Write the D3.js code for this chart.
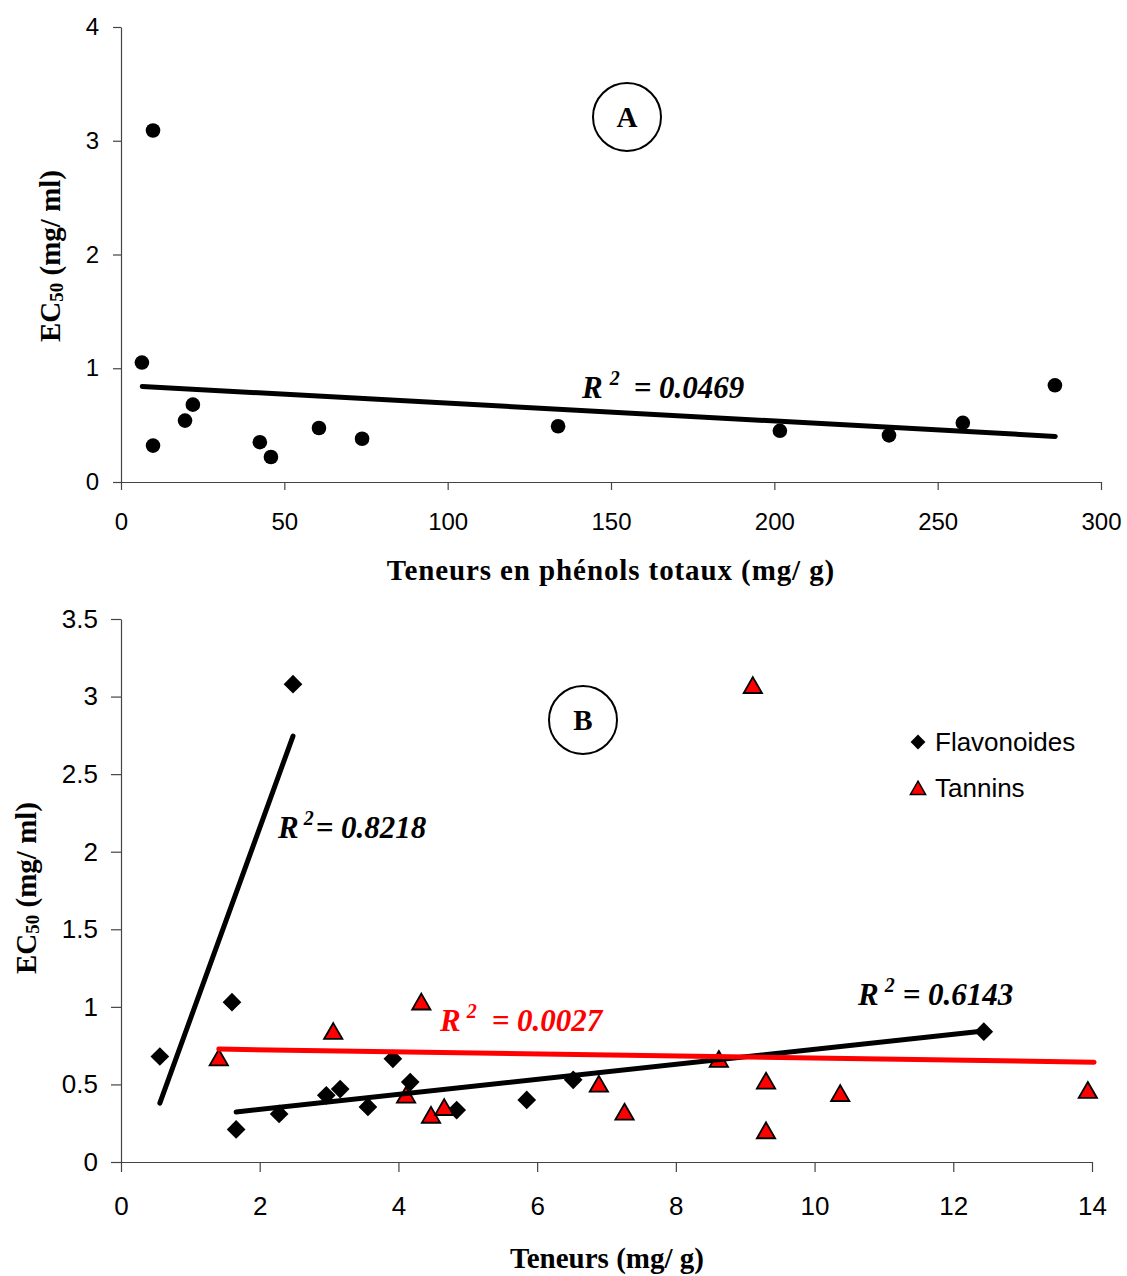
<!DOCTYPE html>
<html>
<head>
<meta charset="utf-8">
<script src="https://cdn.jsdelivr.net/npm/d3@7"></script>
<style>
  html, body { margin: 0; padding: 0; background: #fff; }
  svg { display: block; }
  .tick text { fill: #000; }
</style>
</head>
<body>
<svg id="chart" width="1127" height="1276"></svg>
<script>
// ---- Panel A: total phenols vs EC50 ----
const phenolContent = [6.4, 9.8, 9.8, 19.6, 22.0, 42.5, 45.9, 60.6, 73.8, 133.8, 201.7, 235.1, 257.7, 285.9];
const phenolEC50    = [1.05, 3.09, 0.32, 0.54, 0.68, 0.35, 0.22, 0.475, 0.38, 0.49, 0.45, 0.41, 0.52, 0.85];
const phenolFit     = { slope: -0.00157, intercept: 0.85, from: 6.5, to: 286 };
const phenolR2      = "0.0469";

// ---- Panel B: flavonoids / tannins vs EC50 ----
const flavContent = [0.56, 1.60, 2.48, 1.66, 2.28, 2.96, 3.16, 3.56, 3.92, 4.17, 4.84, 5.85, 6.52, 12.44];
const flavEC50    = [0.68, 1.03, 3.08, 0.21, 0.31, 0.43, 0.47, 0.355, 0.665, 0.515, 0.335, 0.40, 0.53, 0.84];
const tanContent  = [1.41, 3.06, 4.33, 4.11, 4.47, 4.66, 6.89, 7.26, 8.62, 9.11, 9.30, 9.30, 10.37, 13.94];
const tanEC50     = [0.67, 0.84, 1.03, 0.43, 0.30, 0.35, 0.50, 0.32, 0.66, 3.07, 0.52, 0.20, 0.44, 0.46];
const flavFitSteep   = { slope: 1.232, intercept: -0.31, from: 0.56, to: 2.48 };
const flavFitShallow = { slope: 0.0484, intercept: 0.242, from: 1.66, to: 12.44 };
const tanFit         = { slope: -0.00666, intercept: 0.737, from: 1.41, to: 14.03 };
const flavR2Steep = "0.8218", flavR2Shallow = "0.6143", tanR2 = "0.0027";

const ticksAX = [0, 50, 100, 150, 200, 250, 300];
const ticksAY = [0, 1, 2, 3, 4];
const ticksBX = [0, 2, 4, 6, 8, 10, 12, 14];
const ticksBY = [0, 0.5, 1, 1.5, 2, 2.5, 3, 3.5];
const seriesNames = ["Flavonoides", "Tannins"];

const RED = "#ff0000";
const SANS = "'Liberation Sans', Arial, sans-serif";
const SERIF = "'Liberation Serif', 'Times New Roman', serif";

const svg = d3.select("#chart");

function fitLine(g, x, y, fit, color) {
  const pts = [fit.from, fit.to].map(v => [x(v), y(fit.slope * v + fit.intercept)]);
  g.append("path")
    .attr("d", d3.line()(pts))
    .attr("stroke", color).attr("stroke-width", 5)
    .attr("stroke-linecap", "round").attr("fill", "none");
}

function r2Label(g, px, py, value, color, gapSup, gapEq) {
  const t = g.append("text")
    .attr("x", px).attr("y", py)
    .attr("font-family", SERIF).attr("font-weight", "bold").attr("font-style", "italic")
    .attr("font-size", 31).attr("fill", color);
  t.append("tspan").text("R");
  t.append("tspan").attr("dx", gapSup).attr("dy", -13).attr("font-size", 20).text("2");
  t.append("tspan").attr("dx", gapEq).attr("dy", 13).text("= " + value);
}

function circledLetter(g, cx, cy, letter) {
  g.append("circle").attr("cx", cx).attr("cy", cy).attr("r", 34)
    .attr("fill", "none").attr("stroke", "#000").attr("stroke-width", 2);
  g.append("text").attr("x", cx).attr("y", cy + 10).attr("text-anchor", "middle")
    .attr("font-family", SERIF).attr("font-weight", "bold").attr("font-size", 29).text(letter);
}

function yTitle(g, cx, cy) {
  const t = g.append("text")
    .attr("transform", `translate(${cx},${cy}) rotate(-90)`)
    .attr("text-anchor", "middle")
    .attr("font-family", SERIF).attr("font-weight", "bold").attr("font-size", 29);
  t.append("tspan").text("EC");
  t.append("tspan").attr("font-size", 19).attr("dy", 3).text("50");
  t.append("tspan").attr("dy", -3).text(" (mg/ ml)");
}

function styleAxis(g, fontSize) {
  g.selectAll("path.domain").attr("stroke", "#444").attr("stroke-width", 1.2);
  g.selectAll(".tick line").attr("stroke", "#444").attr("stroke-width", 1.2);
  g.selectAll(".tick text").attr("font-family", SANS).attr("font-size", fontSize);
}

// ================= Panel A =================
const xA = d3.scaleLinear().domain([0, 300]).range([121, 1101]);
const yA = d3.scaleLinear().domain([0, 4]).range([482, 27]);
const gA = svg.append("g");

const axAX = gA.append("g").attr("transform", `translate(0,${yA(0)})`)
  .call(d3.axisBottom(xA).tickValues(ticksAX).tickSize(8).tickPadding(23).tickSizeOuter(0));
styleAxis(axAX, 24);
const axAY = gA.append("g").attr("transform", `translate(${xA(0)},0)`)
  .call(d3.axisLeft(yA).tickValues(ticksAY).tickSize(8).tickPadding(14).tickSizeOuter(0)
    .tickFormat(d3.format("")));
styleAxis(axAY, 24);

gA.selectAll("circle.pt").data(d3.zip(phenolContent, phenolEC50)).join("circle")
  .attr("class", "pt")
  .attr("cx", d => xA(d[0])).attr("cy", d => yA(d[1])).attr("r", 7.3).attr("fill", "#000");

fitLine(gA, xA, yA, phenolFit, "#000");
r2Label(gA, 582, 398, phenolR2, "#000", 7, 14);
circledLetter(gA, 627, 117, "A");

gA.append("text").attr("x", 611).attr("y", 580).attr("text-anchor", "middle")
  .attr("font-family", SERIF).attr("font-weight", "bold").attr("font-size", 29)
  .attr("letter-spacing", 0.9)
  .text("Teneurs en phénols totaux (mg/ g)");
yTitle(gA, 60, 256);

// ================= Panel B =================
const xB = d3.scaleLinear().domain([0, 14]).range([121, 1092]);
const yB = d3.scaleLinear().domain([0, 3.5]).range([1162, 619]);
const gB = svg.append("g");

const axBX = gB.append("g").attr("transform", `translate(0,${yB(0)})`)
  .call(d3.axisBottom(xB).tickValues(ticksBX).tickSize(10).tickPadding(25).tickSizeOuter(0));
styleAxis(axBX, 26);
const axBY = gB.append("g").attr("transform", `translate(${xB(0)},0)`)
  .call(d3.axisLeft(yB).tickValues(ticksBY).tickSize(10).tickPadding(13).tickSizeOuter(0)
    .tickFormat(d3.format("")));
styleAxis(axBY, 26);

const diamond = d3.symbol().type(d3.symbolSquare).size(175);
const triangle = d3.symbol().type(d3.symbolTriangle).size(145);

gB.selectAll("path.flav").data(d3.zip(flavContent, flavEC50)).join("path")
  .attr("class", "flav").attr("d", diamond)
  .attr("transform", d => `translate(${xB(d[0])},${yB(d[1])}) rotate(45)`)
  .attr("fill", "#000");

gB.selectAll("path.tan").data(d3.zip(tanContent, tanEC50)).join("path")
  .attr("class", "tan").attr("d", triangle)
  .attr("transform", d => `translate(${xB(d[0])},${yB(d[1]) + 2})`)
  .attr("fill", RED).attr("stroke", "#000").attr("stroke-width", 1.8).attr("stroke-linejoin", "miter");

fitLine(gB, xB, yB, flavFitSteep, "#000");
fitLine(gB, xB, yB, flavFitShallow, "#000");
fitLine(gB, xB, yB, tanFit, RED);

r2Label(gB, 278, 838, flavR2Steep, "#000", 5, 2);
r2Label(gB, 440, 1031, tanR2, RED, 6, 15);
r2Label(gB, 858, 1005, flavR2Shallow, "#000", 6, 8);
circledLetter(gB, 583, 720, "B");

// legend
const legend = gB.append("g");
seriesNames.forEach((name, i) => {
  const ly = 742 + i * 46;
  const mark = legend.append("path")
    .attr("d", i === 0 ? d3.symbol().type(d3.symbolSquare).size(110)() : d3.symbol().type(d3.symbolTriangle).size(100)());
  if (i === 0) {
    mark.attr("transform", `translate(918,${ly}) rotate(45)`).attr("fill", "#000");
  } else {
    mark.attr("transform", `translate(918,${ly + 2})`).attr("fill", RED)
      .attr("stroke", "#000").attr("stroke-width", 1.5);
  }
  legend.append("text").attr("x", 935).attr("y", ly + 9)
    .attr("font-family", SANS).attr("font-size", 26).text(name);
});

gB.append("text").attr("x", 607).attr("y", 1268).attr("text-anchor", "middle")
  .attr("font-family", SERIF).attr("font-weight", "bold").attr("font-size", 29)
  .text("Teneurs (mg/ g)");
yTitle(gB, 36, 888);
</script>
</body>
</html>
